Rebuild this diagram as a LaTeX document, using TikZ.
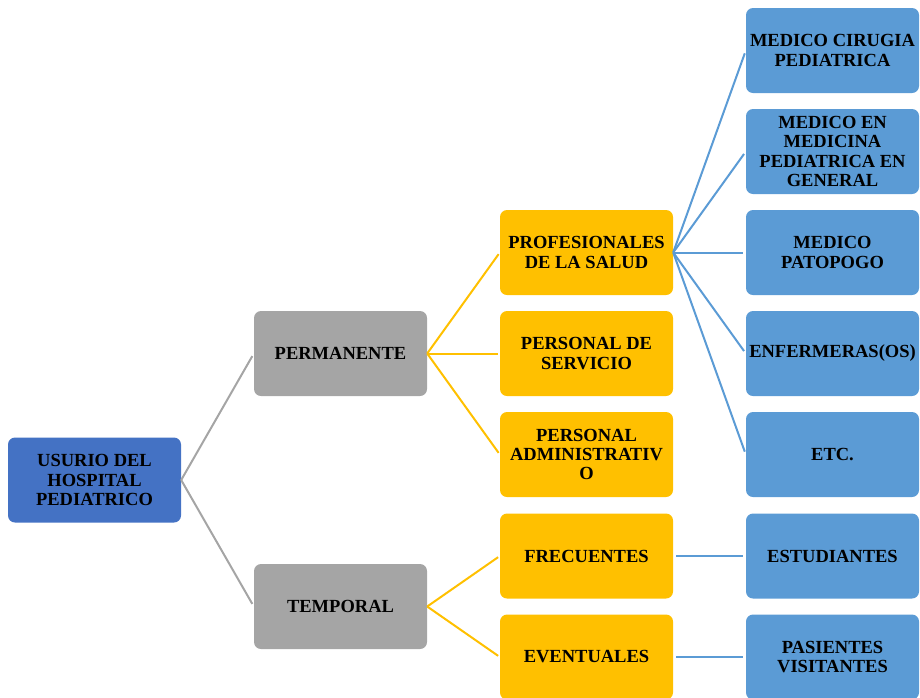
\documentclass[tikz,border=0pt]{standalone}
\usepackage{fontspec}
\setmainfont{Liberation Serif}
\definecolor{rootc}{HTML}{4472C4}
\definecolor{grayc}{HTML}{A5A5A5}
\definecolor{orangec}{HTML}{FFC000}
\definecolor{bluec}{HTML}{5B9BD5}
\tikzset{
  box/.style={rounded corners=7pt, minimum width=173pt, minimum height=85pt, inner sep=0pt, align=center,
    font=\bfseries\fontsize{18.5}{19.2}\selectfont, text=black},
  rootbox/.style={box, fill=rootc},
  graybox/.style={box, fill=grayc},
  orangebox/.style={box, fill=orangec},
  bluebox/.style={box, fill=bluec},
  grayline/.style={draw=grayc, line width=2pt, shorten >=3pt},
  orangeline/.style={draw=orangec, line width=2pt, shorten >=2pt},
  blueline/.style={draw=bluec, line width=2pt, shorten >=3pt},
}
\begin{document}
\begin{tikzpicture}[x=1pt,y=-1pt]
\useasboundingbox (0,0) rectangle (920,697);
\node[rootbox] (root) at (94.5,480) {USURIO DEL\\HOSPITAL\\PEDIATRICO};
\node[graybox] (perm) at (340.5,353.5) {PERMANENTE};
\node[graybox] (temp) at (340.5,606.5) {TEMPORAL};
\node[orangebox] (prof) at (586.5,252.5) {PROFESIONALES\\DE LA SALUD};
\node[orangebox] (serv) at (586.5,353.5) {PERSONAL DE\\SERVICIO};
\node[orangebox] (adm) at (586.5,454.5) {PERSONAL\\ADMINISTRATIV\\O};
\node[orangebox] (frec) at (586.5,556) {FRECUENTES};
\node[orangebox] (even) at (586.5,657) {EVENTUALES};
\node[bluebox] (cir) at (832.5,50.5) {MEDICO CIRUGIA\\PEDIATRICA};
\node[bluebox] (med) at (832.5,151.5) {MEDICO EN\\MEDICINA\\PEDIATRICA EN\\GENERAL};
\node[bluebox] (pat) at (832.5,252.5) {MEDICO\\PATOPOGO};
\node[bluebox] (enf) at (832.5,353.5) {ENFERMERAS(OS)};
\node[bluebox] (etc) at (832.5,454.5) {ETC.};
\node[bluebox] (est) at (832.5,556) {ESTUDIANTES};
\node[bluebox] (pas) at (832.5,657) {PASIENTES\\VISITANTES};
\draw[grayline] (root.east) -- (perm.west);
\draw[grayline] (root.east) -- (temp.west);
\foreach \c in {prof,serv,adm} \draw[orangeline] (perm.east) -- (\c.west);
\foreach \c in {frec,even} \draw[orangeline] (temp.east) -- (\c.west);
\foreach \c in {cir,med,pat,enf,etc} \draw[blueline] (prof.east) -- (\c.west);
\draw[blueline] ([xshift=3pt]frec.east) -- (est.west);
\draw[blueline] ([xshift=3pt]even.east) -- (pas.west);
\end{tikzpicture}
\end{document}
